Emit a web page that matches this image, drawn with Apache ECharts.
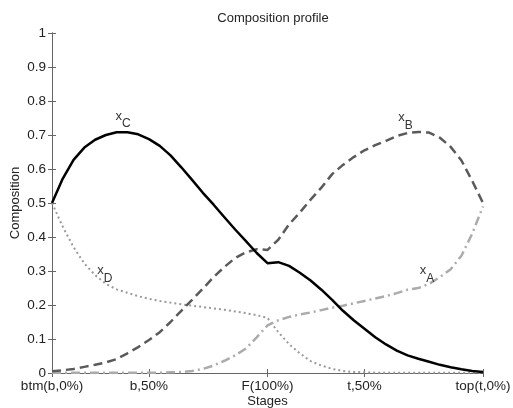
<!DOCTYPE html>
<html>
<head>
<meta charset="utf-8">
<script src="https://cdn.jsdelivr.net/npm/echarts@6/dist/echarts.min.js"></script>
<style>
  html, body { margin: 0; padding: 0; background: #fff; }
  #main { width: 513px; height: 408px; }
</style>
</head>
<body>
<div id="main"></div>
<script>
// stage index 0..40, feed at 20
var stages = [];
for (var i = 0; i <= 40; i++) stages.push(i);

var tickStages = [0, 9, 20, 29, 40];
var tickNames = ['btm(b,0%)', 'b,50%', 'F(100%)', 't,50%', 'top(t,0%)'];

var xC = [0.500, 0.572, 0.627, 0.663, 0.686, 0.700, 0.708, 0.708, 0.702, 0.688,
          0.668, 0.640, 0.605, 0.568, 0.530, 0.495, 0.458, 0.422, 0.388, 0.353,
          0.323, 0.326, 0.315, 0.295, 0.272, 0.245, 0.215, 0.183, 0.155, 0.130,
          0.105, 0.084, 0.066, 0.052, 0.042, 0.033, 0.024, 0.017, 0.011, 0.006, 0.003];
var xB = [0.005, 0.008, 0.012, 0.018, 0.024, 0.031, 0.041, 0.058, 0.076, 0.097,
          0.120, 0.150, 0.183, 0.215, 0.248, 0.282, 0.312, 0.338, 0.355, 0.364,
          0.362, 0.392, 0.437, 0.472, 0.510, 0.545, 0.585, 0.612, 0.635, 0.655,
          0.670, 0.683, 0.697, 0.706, 0.709, 0.707, 0.692, 0.665, 0.625, 0.565, 0.500];
var xA = [0.001, 0.001, 0.001, 0.001, 0.001, 0.001, 0.001, 0.001, 0.001, 0.001,
          0.001, 0.002, 0.003, 0.006, 0.012, 0.022, 0.036, 0.052, 0.072, 0.105,
          0.140, 0.155, 0.165, 0.172, 0.178, 0.185, 0.192, 0.198, 0.205, 0.212,
          0.219, 0.226, 0.235, 0.245, 0.250, 0.262, 0.282, 0.305, 0.345, 0.410, 0.490];
var xD = [0.500, 0.430, 0.370, 0.322, 0.288, 0.262, 0.246, 0.236, 0.226, 0.218,
          0.212, 0.207, 0.202, 0.198, 0.194, 0.190, 0.186, 0.181, 0.176, 0.170,
          0.162, 0.120, 0.085, 0.058, 0.035, 0.022, 0.012, 0.006, 0.003, 0.002,
          0.001, 0.001, 0.001, 0.001, 0.001, 0.001, 0.001, 0.001, 0.001, 0.001, 0.001];

// where the x_i tags sit (stage, composition)
var tagPos = { C: [6.6, 0.748], B: [32.8, 0.743], D: [4.9, 0.293], A: [34.8, 0.293] };

function pairs(vals) {
  return stages.map(function (s, i) { return [s, vals[i]]; });
}

var font = 'Liberation Sans, Arial, sans-serif';
var axisCol = '#666';

function tag(key) {
  return {
    silent: true,
    symbol: 'circle',
    symbolSize: 0,
    data: [{
      coord: tagPos[key],
      label: {
        show: true,
        position: 'inside',
        formatter: '{x|x}{s|' + key + '}',
        rich: {
          x: { fontSize: 13, color: '#333', fontFamily: font, padding: [0, 0, 5, 0] },
          s: { fontSize: 12, color: '#333', fontFamily: font, padding: [10, 0, 0, 0] }
        }
      }
    }]
  };
}

var chart = echarts.init(document.getElementById('main'));
chart.setOption({
  animation: false,
  backgroundColor: '#fff',
  title: {
    text: 'Composition profile',
    left: 268, top: 7, textAlign: 'center',
    textStyle: { fontSize: 13, fontWeight: 'normal', color: '#222', fontFamily: font }
  },
  grid: { left: 52, right: 30, top: 33, bottom: 35, containLabel: false, outerBoundsMode: 'none' },
  xAxis: [{
    type: 'value', min: 0, max: 40,
    name: 'Stages', nameLocation: 'middle', nameGap: 22, nameMoveOverlap: false,
    nameTextStyle: { fontSize: 13, color: '#222', fontFamily: font },
    axisLine: { lineStyle: { color: axisCol, width: 1 } },
    axisTick: { inside: true, length: 4, customValues: tickStages, lineStyle: { color: axisCol } },
    axisLabel: {
      customValues: tickStages, fontSize: 13.5, color: '#222', fontFamily: font, margin: 6,
      formatter: function (v) { return tickNames[tickStages.indexOf(v)]; }
    },
    splitLine: { show: false }
  }, {
    type: 'value', min: 0, max: 40, position: 'top',
    axisLine: { lineStyle: { color: axisCol, width: 1 } },
    axisTick: { inside: true, length: 4, customValues: tickStages, lineStyle: { color: axisCol } },
    axisLabel: { show: false },
    splitLine: { show: false }
  }],
  yAxis: [{
    type: 'value', min: 0, max: 1, interval: 0.1,
    name: 'Composition', nameLocation: 'middle', nameGap: 30, nameMoveOverlap: false,
    nameTextStyle: { fontSize: 13, color: '#222', fontFamily: font },
    axisLine: { show: true, lineStyle: { color: axisCol, width: 1 } },
    axisTick: { show: true, inside: true, length: 4, lineStyle: { color: axisCol } },
    axisLabel: { fontSize: 13.5, color: '#222', fontFamily: font, margin: 6 },
    splitLine: { show: false }
  }, {
    type: 'value', min: 0, max: 1, interval: 0.1, position: 'right',
    axisLine: { show: true, lineStyle: { color: axisCol, width: 1 } },
    axisTick: { show: true, inside: true, length: 4, lineStyle: { color: axisCol } },
    axisLabel: { show: false },
    splitLine: { show: false }
  }],
  series: [
    {
      name: 'xD', type: 'line', data: pairs(xD), showSymbol: false,
      lineStyle: { color: '#9a9a9a', width: 2, type: [2, 3] },
      markPoint: tag('D')
    },
    {
      name: 'xA', type: 'line', data: pairs(xA), showSymbol: false,
      lineStyle: { color: '#ababab', width: 2.5, type: [9, 4, 2, 4] },
      markPoint: tag('A')
    },
    {
      name: 'xB', type: 'line', data: pairs(xB), showSymbol: false,
      lineStyle: { color: '#5a5a5a', width: 2.5, type: [9, 5] },
      markPoint: tag('B')
    },
    {
      name: 'xC', type: 'line', data: pairs(xC), showSymbol: false,
      lineStyle: { color: '#000', width: 2.5, join: 'round' },
      markPoint: tag('C')
    }
  ]
});
</script>
</body>
</html>
